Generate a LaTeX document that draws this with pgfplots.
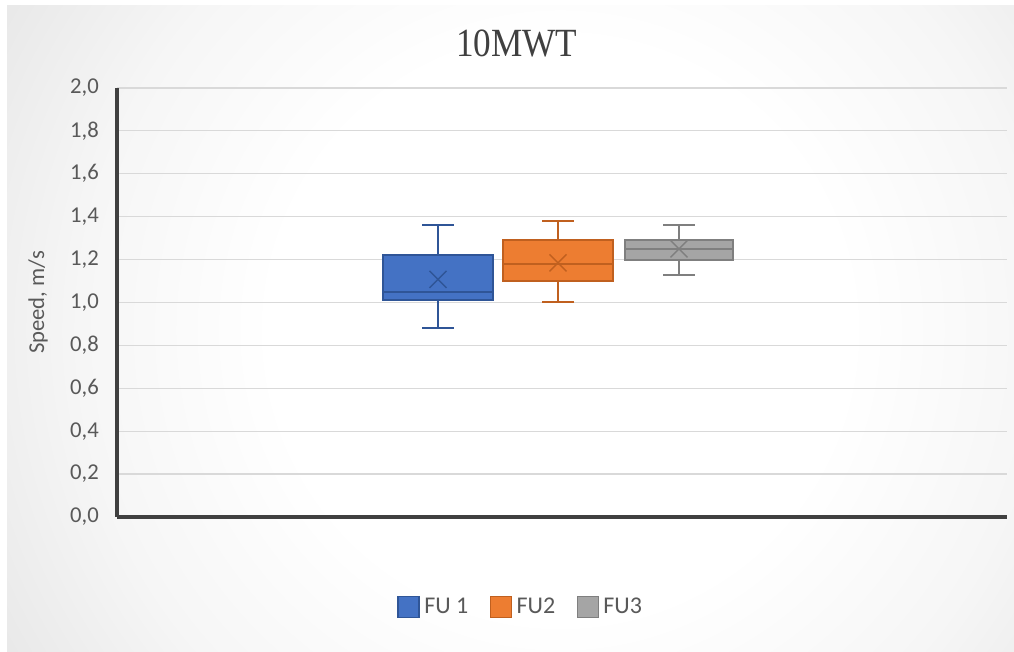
\documentclass[border=0pt]{standalone}
\usepackage{pgfplots}
\pgfplotsset{compat=1.18}
\usepackage{fontspec}
\setmainfont{Carlito}
\newfontfamily\titlefont{Liberation Serif}

\definecolor{txt}{HTML}{595959}
\definecolor{ttl}{HTML}{404040}
\definecolor{axln}{HTML}{404040}
\definecolor{grd}{HTML}{D9D9D9}
\definecolor{fuA}{HTML}{4472C4}
\definecolor{fuAd}{HTML}{2F5597}
\definecolor{fuB}{HTML}{ED7D31}
\definecolor{fuBd}{HTML}{C0601F}
\definecolor{fuC}{HTML}{A5A5A5}
\definecolor{fuCd}{HTML}{7F7F7F}
\definecolor{bgA}{HTML}{F6F6F6}
\definecolor{bgB}{HTML}{E6E6E6}
\definecolor{bgC}{HTML}{D8D8D8}
\definecolor{bgD}{HTML}{CECECE}
\definecolor{bgE}{HTML}{C4C4C4}

% soft radial background of the chart area
\pgfdeclareradialshading{chartbg}{\pgfpoint{0bp}{0bp}}{%
  color(0bp)=(white); color(12bp)=(white); color(20bp)=(bgA);
  color(28bp)=(bgB); color(36bp)=(bgC); color(46bp)=(bgD);
  color(54bp)=(bgE); color(72bp)=(bgE)}

\pgfplotsset{
  boxpart/.style={forget plot, line width=1.5pt, line join=miter, mark=none},
  meanmark/.style={forget plot, only marks, mark=x, mark size=9pt,
    line width=1.1pt},
}

\begin{document}
\begin{tikzpicture}
\useasboundingbox (0,0) rectangle (760.5pt,489pt);
\fill[white] (0,0) rectangle (760.5pt,489pt);
\begin{scope}
  \clip (5.25pt,0pt) rectangle (760.5pt,484.5pt);
  \shade[shading=chartbg] (-30pt,-208.5pt) rectangle (870pt,691.5pt);
\end{scope}

\begin{axis}[
  at={(87.75pt,101.25pt)}, anchor=south west,
  scale only axis, width=667.5pt, height=321.75pt,
  xmin=0, xmax=8.9, ymin=0, ymax=2,
  axis lines=left,
  axis line style={-, line width=2.6pt, color=axln},
  xtick=\empty,
  ytick={0,0.2,0.4,0.6,0.8,1.0,1.2,1.4,1.6,1.8,2.0},
  ymajorgrids,
  major grid style={grd, line width=0.9pt},
  major tick length=0pt,
  /pgf/number format/use comma,
  /pgf/number format/fixed,
  /pgf/number format/fixed zerofill,
  /pgf/number format/precision=1,
  /pgf/number format/assume math mode=true,
  yticklabel style={font=\fontsize{17}{20}\selectfont, text=txt,
    anchor=east, inner sep=0pt, xshift=-13.5pt},
  title={\scalebox{0.88}[1]{10MWT}},
  title style={at={(axis description cs:0.449,1.086)}, anchor=center,
    font=\titlefont\fontsize{30}{34}\selectfont, text=ttl},
  ylabel={Speed, m/s},
  ylabel style={at={(axis description cs:-0.0888,0.5)}, anchor=center,
    font=\fontsize{17}{20}\selectfont, text=txt},
  legend style={at={(axis description cs:0.454,-0.21)}, anchor=center,
    draw=none, fill=none, font=\fontsize{18}{21}\selectfont, text=txt,
    /tikz/every even column/.append style={column sep=14pt}},
  legend columns=3,
  legend image code/.code={%
    \draw[#1, line width=1pt] (0pt,-7.9pt) rectangle (15.75pt,7.9pt);
    \path (17.5pt,0pt);},
]

\addlegendimage{fill=fuA, draw=fuAd}
\addlegendimage{fill=fuB, draw=fuBd}
\addlegendimage{fill=fuC, draw=fuCd}

% FU 1: whiskers 0.88 / 1.36, quartiles 1.01 / 1.22, median 1.05, mean 1.108
\addplot[boxpart, draw=fuAd] coordinates {(3.21,1.01) (3.21,0.88) (3.05,0.88) (3.37,0.88)};
\addplot[boxpart, draw=fuAd] coordinates {(3.21,1.22) (3.21,1.36) (3.05,1.36) (3.37,1.36)};
\addplot[boxpart, draw=fuAd, fill=fuA] coordinates {(2.66,1.01) (3.76,1.01) (3.76,1.22) (2.66,1.22)} -- cycle;
\addplot[boxpart, draw=fuAd] coordinates {(2.66,1.05) (3.76,1.05)};
\addplot[meanmark, color=fuAd] coordinates {(3.21,1.108)};

% FU2: whiskers 1.00 / 1.38, quartiles 1.10 / 1.29, median 1.18, mean 1.185
\addplot[boxpart, draw=fuBd] coordinates {(4.41,1.10) (4.41,1.00) (4.25,1.00) (4.57,1.00)};
\addplot[boxpart, draw=fuBd] coordinates {(4.41,1.29) (4.41,1.38) (4.25,1.38) (4.57,1.38)};
\addplot[boxpart, draw=fuBd, fill=fuB] coordinates {(3.86,1.10) (4.96,1.10) (4.96,1.29) (3.86,1.29)} -- cycle;
\addplot[boxpart, draw=fuBd] coordinates {(3.86,1.18) (4.96,1.18)};
\addplot[meanmark, color=fuBd] coordinates {(4.41,1.185)};

% FU3: whiskers 1.13 / 1.36, quartiles 1.20 / 1.29, median 1.25, mean 1.25
\addplot[boxpart, draw=fuCd] coordinates {(5.62,1.20) (5.62,1.13) (5.46,1.13) (5.78,1.13)};
\addplot[boxpart, draw=fuCd] coordinates {(5.62,1.29) (5.62,1.36) (5.46,1.36) (5.78,1.36)};
\addplot[boxpart, draw=fuCd, fill=fuC] coordinates {(5.08,1.20) (6.16,1.20) (6.16,1.29) (5.08,1.29)} -- cycle;
\addplot[boxpart, draw=fuCd] coordinates {(5.08,1.25) (6.16,1.25)};
\addplot[meanmark, color=fuCd] coordinates {(5.62,1.25)};

\legend{FU 1, FU2, FU3}
\end{axis}
\end{tikzpicture}
\end{document}
